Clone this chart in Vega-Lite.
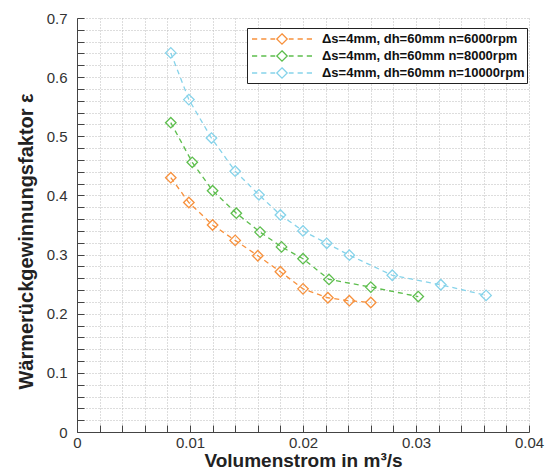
{
  "$schema": "https://vega.github.io/schema/vega-lite/v6.json",
  "autosize": "none",
  "width": 452,
  "height": 414,
  "padding": {"left": 77, "top": 18, "right": 16, "bottom": 40},
  "background": "white",
  "config": {
    "font": "Liberation Sans",
    "view": {"stroke": null}
  },
  "data": {
    "values": [
      {"x": 0.0083, "y": 0.430, "series": "Δs=4mm, dh=60mm n=6000rpm"},
      {"x": 0.0099, "y": 0.388, "series": "Δs=4mm, dh=60mm n=6000rpm"},
      {"x": 0.0120, "y": 0.350, "series": "Δs=4mm, dh=60mm n=6000rpm"},
      {"x": 0.0140, "y": 0.324, "series": "Δs=4mm, dh=60mm n=6000rpm"},
      {"x": 0.0160, "y": 0.298, "series": "Δs=4mm, dh=60mm n=6000rpm"},
      {"x": 0.0180, "y": 0.271, "series": "Δs=4mm, dh=60mm n=6000rpm"},
      {"x": 0.0200, "y": 0.242, "series": "Δs=4mm, dh=60mm n=6000rpm"},
      {"x": 0.0222, "y": 0.227, "series": "Δs=4mm, dh=60mm n=6000rpm"},
      {"x": 0.0241, "y": 0.222, "series": "Δs=4mm, dh=60mm n=6000rpm"},
      {"x": 0.0260, "y": 0.219, "series": "Δs=4mm, dh=60mm n=6000rpm"},
      {"x": 0.0083, "y": 0.523, "series": "Δs=4mm, dh=60mm n=8000rpm"},
      {"x": 0.0102, "y": 0.456, "series": "Δs=4mm, dh=60mm n=8000rpm"},
      {"x": 0.0120, "y": 0.408, "series": "Δs=4mm, dh=60mm n=8000rpm"},
      {"x": 0.0141, "y": 0.370, "series": "Δs=4mm, dh=60mm n=8000rpm"},
      {"x": 0.0162, "y": 0.338, "series": "Δs=4mm, dh=60mm n=8000rpm"},
      {"x": 0.0181, "y": 0.313, "series": "Δs=4mm, dh=60mm n=8000rpm"},
      {"x": 0.0200, "y": 0.293, "series": "Δs=4mm, dh=60mm n=8000rpm"},
      {"x": 0.0223, "y": 0.258, "series": "Δs=4mm, dh=60mm n=8000rpm"},
      {"x": 0.0260, "y": 0.245, "series": "Δs=4mm, dh=60mm n=8000rpm"},
      {"x": 0.0302, "y": 0.229, "series": "Δs=4mm, dh=60mm n=8000rpm"},
      {"x": 0.0083, "y": 0.641, "series": "Δs=4mm, dh=60mm n=10000rpm"},
      {"x": 0.0099, "y": 0.562, "series": "Δs=4mm, dh=60mm n=10000rpm"},
      {"x": 0.0119, "y": 0.497, "series": "Δs=4mm, dh=60mm n=10000rpm"},
      {"x": 0.0140, "y": 0.441, "series": "Δs=4mm, dh=60mm n=10000rpm"},
      {"x": 0.0161, "y": 0.401, "series": "Δs=4mm, dh=60mm n=10000rpm"},
      {"x": 0.0180, "y": 0.367, "series": "Δs=4mm, dh=60mm n=10000rpm"},
      {"x": 0.0200, "y": 0.340, "series": "Δs=4mm, dh=60mm n=10000rpm"},
      {"x": 0.0221, "y": 0.319, "series": "Δs=4mm, dh=60mm n=10000rpm"},
      {"x": 0.0241, "y": 0.299, "series": "Δs=4mm, dh=60mm n=10000rpm"},
      {"x": 0.0279, "y": 0.265, "series": "Δs=4mm, dh=60mm n=10000rpm"},
      {"x": 0.0322, "y": 0.249, "series": "Δs=4mm, dh=60mm n=10000rpm"},
      {"x": 0.0362, "y": 0.231, "series": "Δs=4mm, dh=60mm n=10000rpm"}
    ]
  },
  "encoding": {
    "x": {
      "field": "x",
      "type": "quantitative",
      "scale": {"domain": [0, 0.04], "nice": false, "zero": false},
      "axis": {
        "title": "Volumenstrom in m³/s",
        "titleFont": "Liberation Sans",
        "titleFontSize": 19,
        "titleFontWeight": "bold",
        "titleColor": "#222",
        "titlePadding": 1,
        "values": [0, 0.002, 0.004, 0.006, 0.008, 0.01, 0.012, 0.014, 0.016, 0.018, 0.02, 0.022, 0.024, 0.026, 0.028, 0.03, 0.032, 0.034, 0.036, 0.038, 0.04],
        "labelExpr": "abs(datum.value*100 - round(datum.value*100)) < 1e-6 ? format(datum.value, '~g') : ''",
        "labelFontSize": 15,
        "labelColor": "#333",
        "labelFlush": false,
        "labelPadding": 10,
        "ticks": true,
        "tickSize": -7,
        "tickWidth": 1,
        "tickColor": "#444",
        "domainColor": "#444",
        "grid": true,
        "gridDash": [1, 2],
        "gridColor": "#bbb"
      }
    },
    "y": {
      "field": "y",
      "type": "quantitative",
      "scale": {"domain": [0, 0.7], "nice": false, "zero": false},
      "axis": {
        "title": "Wärmerückgewinnungsfaktor ε",
        "titleFont": "Liberation Sans",
        "titleFontSize": 20,
        "titleFontWeight": "bold",
        "titleColor": "#222",
        "titlePadding": 10,
        "titleY": 223,
        "values": [0, 0.02, 0.04, 0.06, 0.08, 0.1, 0.12, 0.14, 0.16, 0.18, 0.2, 0.22, 0.24, 0.26, 0.28, 0.3, 0.32, 0.34, 0.36, 0.38, 0.4, 0.42, 0.44, 0.46, 0.48, 0.5, 0.52, 0.54, 0.56, 0.58, 0.6, 0.62, 0.64, 0.66, 0.68, 0.7],
        "labelExpr": "abs(datum.value*10 - round(datum.value*10)) < 1e-6 ? format(datum.value, '~g') : ''",
        "labelFontSize": 15,
        "labelColor": "#333",
        "labelFlush": false,
        "labelPadding": 17,
        "ticks": true,
        "tickSize": -7,
        "tickWidth": 1,
        "tickColor": "#444",
        "domainColor": "#444",
        "grid": true,
        "gridDash": [1, 2],
        "gridColor": "#bbb"
      }
    },
    "color": {
      "field": "series",
      "type": "nominal",
      "scale": {
        "domain": ["Δs=4mm, dh=60mm n=6000rpm", "Δs=4mm, dh=60mm n=8000rpm", "Δs=4mm, dh=60mm n=10000rpm"],
        "range": ["#F7913D", "#5DBE4D", "#86D3EA"]
      },
      "legend": {
        "title": null,
        "orient": "none",
        "legendX": 170,
        "legendY": 10,
        "strokeColor": "#222",
        "fillColor": "white",
        "padding": 2,
        "cornerRadius": 0,
        "labelFont": "Liberation Sans",
        "labelFontSize": 13,
        "labelFontWeight": "bold",
        "labelColor": "#111",
        "labelLimit": 300,
        "labelOffset": 31,
        "symbolOffset": 24,
        "rowPadding": 0,
        "symbolType": "M-3.75,0H-3.1M-2.6,0H-1.95M-1.45,0H-0.85M0.85,0H1.45M1.95,0H2.6M3.1,0H3.75M0,-0.65L0.65,0L0,0.65L-0.65,0Z",
        "symbolSize": 256,
        "symbolStrokeWidth": 1.3,
        "symbolFillColor": "transparent"
      }
    }
  },
  "layer": [
    {
      "mark": {"type": "line", "strokeDash": [5, 4], "strokeWidth": 1.3},
      "encoding": {"order": {"field": "x", "type": "quantitative"}}
    },
    {
      "mark": {"type": "point", "shape": "diamond", "filled": false, "size": 110, "strokeWidth": 1.3, "opacity": 1}
    }
  ]
}
